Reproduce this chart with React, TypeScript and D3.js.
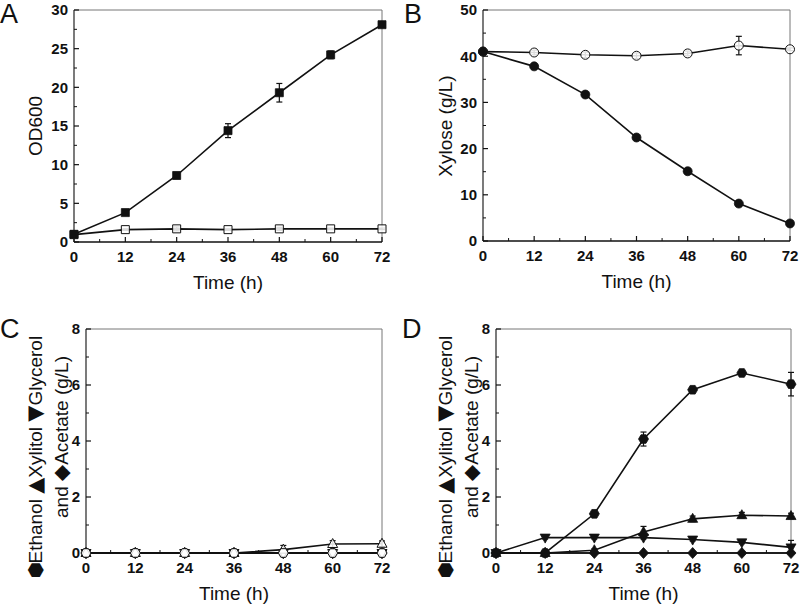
import React from "react";
import * as d3 from "d3";

const time = [0, 12, 24, 36, 48, 60, 72];
const xTicks = [0, 12, 24, 36, 48, 60, 72];

// Panel A: OD600
const odFilled = [1.0, 3.8, 8.6, 14.4, 19.3, 24.2, 28.1];
const odFilledErr = [0.1, 0.2, 0.2, 0.9, 1.2, 0.5, 0.2];
const odOpen = [0.95, 1.6, 1.7, 1.6, 1.7, 1.7, 1.7];
const odOpenErr = [0.05, 0.1, 0.25, 0.1, 0.2, 0.1, 0.1];
const odTicks = [0, 5, 10, 15, 20, 25, 30];

// Panel B: Xylose
const xyFilled = [41.0, 37.8, 31.7, 22.4, 15.1, 8.1, 3.8];
const xyFilledErr = [0.3, 0.3, 0.3, 0.4, 0.4, 0.6, 0.3];
const xyOpen = [41.0, 40.8, 40.3, 40.1, 40.6, 42.3, 41.5];
const xyOpenErr = [0.3, 0.5, 0.6, 0.6, 0.5, 2.0, 0.3];
const xyTicks = [0, 10, 20, 30, 40, 50];

// Panel C
const ethanolC = [0, 0, 0, 0, 0, 0, 0];
const ethanolCErr = [0, 0, 0, 0, 0, 0, 0];
const xylitolC = [0, 0, 0, 0, 0.12, 0.32, 0.33];
const xylitolCErr = [0, 0, 0, 0, 0.15, 0.12, 0.1];
const glycerolC = [0, 0, 0, 0, 0, 0, 0];
const glycerolCErr = [0, 0, 0, 0, 0.1, 0.1, 0.05];
const acetateC = [0, 0, 0, 0, 0, 0, 0];
const acetateCErr = [0, 0, 0, 0, 0, 0, 0];

// Panel D
const ethanolD = [0, 0, 1.4, 4.07, 5.83, 6.43, 6.03];
const ethanolDErr = [0, 0, 0.05, 0.25, 0.05, 0.05, 0.42];
const xylitolD = [0, 0, 0.1, 0.75, 1.22, 1.35, 1.32];
const xylitolDErr = [0, 0, 0.05, 0.2, 0.1, 0.1, 0.1];
const glycerolD = [0, 0.55, 0.55, 0.55, 0.48, 0.38, 0.2];
const glycerolDErr = [0, 0.05, 0.05, 0.05, 0.05, 0.05, 0.25];
const acetateD = [0, 0, 0, 0, 0, 0, 0];
const acetateDErr = [0, 0, 0, 0, 0, 0, 0];
const prodTicks = [0, 2, 4, 6, 8];

const FONT = "'Liberation Sans', Arial, sans-serif";
const SYM = "'DejaVu Sans', sans-serif";

type Shape = "square" | "circle" | "hexagon" | "triUp" | "triDown" | "diamond";

interface Series {
  values: number[];
  err: number[];
  shape: Shape;
  filled: boolean;
}

function markerPath(shape: Shape, cx: number, cy: number): string {
  const p = d3.path();
  if (shape === "square") {
    const s = 4;
    p.rect(cx - s, cy - s, 2 * s, 2 * s);
  } else if (shape === "circle") {
    p.moveTo(cx + 4.5, cy);
    p.arc(cx, cy, 4.5, 0, Math.PI * 2);
  } else if (shape === "hexagon") {
    const r = 5;
    for (let i = 0; i < 6; i++) {
      const a = (Math.PI / 3) * i;
      const x = cx + r * Math.cos(a);
      const y = cy + r * Math.sin(a);
      if (i === 0) p.moveTo(x, y);
      else p.lineTo(x, y);
    }
    p.closePath();
  } else if (shape === "triUp") {
    p.moveTo(cx, cy - 5.5);
    p.lineTo(cx + 5, cy + 3.5);
    p.lineTo(cx - 5, cy + 3.5);
    p.closePath();
  } else if (shape === "triDown") {
    p.moveTo(cx, cy + 5.5);
    p.lineTo(cx + 5, cy - 3.5);
    p.lineTo(cx - 5, cy - 3.5);
    p.closePath();
  } else {
    p.moveTo(cx, cy - 5.5);
    p.lineTo(cx + 5, cy);
    p.lineTo(cx, cy + 5.5);
    p.lineTo(cx - 5, cy);
    p.closePath();
  }
  return p.toString();
}

type Part = { t: string; sym?: number; dx?: number };

interface PanelProps {
  left: number;
  right: number;
  top: number;
  bottom: number;
  yMax: number;
  yTicks: number[];
  series: Series[];
  letter: string;
  letterX: number;
  letterY: number;
  yLabelLines: { parts: Part[]; x: number; y: number }[];
}

function Panel(props: PanelProps) {
  const { left, right, top, bottom, yMax, yTicks, series } = props;
  const x = d3.scaleLinear().domain([0, 72]).range([left, right]);
  const y = d3.scaleLinear().domain([0, yMax]).range([bottom, top]);
  const line = d3
    .line<number>()
    .x((_, i) => x(time[i]))
    .y((v) => y(v));
  const yStep = yTicks[1] - yTicks[0];
  const yMinor = d3.range(yStep / 2, yMax, yStep);
  const xMinor = d3.range(6, 72, 12);
  return (
    <g>
      {/* frame */}
      <line x1={left} x2={right} y1={top} y2={top} stroke="#777" strokeWidth={1} />
      <line x1={right} x2={right} y1={top} y2={bottom} stroke="#777" strokeWidth={1} />
      <line x1={left} x2={left} y1={top} y2={bottom} stroke="#222" strokeWidth={1.2} />
      <line x1={left} x2={right} y1={bottom} y2={bottom} stroke="#111" strokeWidth={1.5} />
      {/* x ticks */}
      {xTicks.map((t) => (
        <g key={"xt" + t}>
          <line x1={x(t)} x2={x(t)} y1={bottom} y2={bottom - 5} stroke="#111" strokeWidth={1.2} />
          <text
            x={x(t)}
            y={bottom + 20}
            textAnchor="middle"
            fontFamily={FONT}
            fontWeight="bold"
            fontSize={15}
            fill="#111"
          >
            {t}
          </text>
        </g>
      ))}
      {xMinor.map((t) => (
        <line key={"xm" + t} x1={x(t)} x2={x(t)} y1={bottom} y2={bottom - 3} stroke="#111" strokeWidth={1} />
      ))}
      {/* y ticks */}
      {yTicks.map((t) => (
        <g key={"yt" + t}>
          <line x1={left} x2={left + 5} y1={y(t)} y2={y(t)} stroke="#111" strokeWidth={1.2} />
          <text
            x={left - 6}
            y={y(t)}
            dy="0.36em"
            textAnchor="end"
            fontFamily={FONT}
            fontWeight="bold"
            fontSize={15}
            fill="#111"
          >
            {t}
          </text>
        </g>
      ))}
      {yMinor.map((t) => (
        <line key={"ym" + t} x1={left} x2={left + 3} y1={y(t)} y2={y(t)} stroke="#111" strokeWidth={1} />
      ))}
      {/* lines */}
      {series.map((s, si) => (
        <path key={"l" + si} d={line(s.values) || ""} fill="none" stroke="#111" strokeWidth={1.6} />
      ))}
      {/* error bars */}
      {series.map((s, si) =>
        s.values.map((v, i) =>
          s.err[i] > 0 ? (
            <g key={"e" + si + "-" + i} stroke="#111" strokeWidth={1.2}>
              <line x1={x(time[i])} x2={x(time[i])} y1={y(v - s.err[i])} y2={y(v + s.err[i])} />
              <line x1={x(time[i]) - 3} x2={x(time[i]) + 3} y1={y(v + s.err[i])} y2={y(v + s.err[i])} />
              <line x1={x(time[i]) - 3} x2={x(time[i]) + 3} y1={y(v - s.err[i])} y2={y(v - s.err[i])} />
            </g>
          ) : null
        )
      )}
      {/* markers */}
      {series.map((s, si) =>
        s.values.map((v, i) => (
          <path
            key={"m" + si + "-" + i}
            d={markerPath(s.shape, x(time[i]), y(v))}
            fill={s.filled ? "#111" : "#fff"}
            stroke="#111"
            strokeWidth={s.filled ? 0.8 : 1}
            fillOpacity={s.filled ? 1 : 0.85}
          />
        ))
      )}
      {/* x title */}
      <text
        x={(left + right) / 2}
        y={bottom + 47}
        textAnchor="middle"
        fontFamily={FONT}
        fontSize={19}
        fill="#111"
      >
        Time (h)
      </text>
      {/* y title */}
      {props.yLabelLines.map((l, i) => (
        <text
          key={"yl" + i}
          transform={`translate(${l.x},${l.y}) rotate(-90)`}
          textAnchor="middle"
          dy="0.35em"
          fontFamily={FONT}
          fontSize={19}
          fill="#111"
        >
          {l.parts.map((p, j) =>
            p.sym ? (
              <tspan key={j} fontFamily={SYM} fontSize={p.sym} dx={p.dx}>
                {p.t}
              </tspan>
            ) : (
              <tspan key={j} dx={p.dx}>
                {p.t}
              </tspan>
            )
          )}
        </text>
      ))}
      {/* panel letter */}
      <text x={props.letterX} y={props.letterY} fontFamily={FONT} fontSize={27} fill="#111">
        {props.letter}
      </text>
    </g>
  );
}

export default function App() {
  const prodLabel = (x1: number, x2: number) => [
    {
      parts: [
        { t: "\u2B22", sym: 19 },
        { t: "Ethanol ", dx: -2 },
        { t: "\u25B2", sym: 21 },
        { t: "Xylitol " },
        { t: "\u25BC", sym: 21 },
        { t: "Glycerol" },
      ],
      x: x1,
      y: 457,
    },
    {
      parts: [{ t: "and " }, { t: "\u25C6", sym: 21 }, { t: "Acetate (g/L)" }],
      x: x2,
      y: 437,
    },
  ];
  return (
    <svg width={800} height={606} style={{ position: "absolute", left: 0, top: 0, background: "#fff" }}>
      <Panel
        left={74}
        right={382}
        top={10}
        bottom={242}
        yMax={30}
        yTicks={odTicks}
        series={[
          { values: odOpen, err: odOpenErr, shape: "square", filled: false },
          { values: odFilled, err: odFilledErr, shape: "square", filled: true },
        ]}
        letter="A"
        letterX={0}
        letterY={23}
        yLabelLines={[{ parts: [{ t: "OD600" }], x: 35, y: 126 }]}
      />
      <Panel
        left={483}
        right={790}
        top={10}
        bottom={241}
        yMax={50}
        yTicks={xyTicks}
        series={[
          { values: xyOpen, err: xyOpenErr, shape: "circle", filled: false },
          { values: xyFilled, err: xyFilledErr, shape: "circle", filled: true },
        ]}
        letter="B"
        letterX={404}
        letterY={23}
        yLabelLines={[{ parts: [{ t: "Xylose (g/L)" }], x: 445, y: 126 }]}
      />
      <Panel
        left={86}
        right={382}
        top={329}
        bottom={553}
        yMax={8}
        yTicks={prodTicks}
        series={[
          { values: acetateC, err: acetateCErr, shape: "diamond", filled: false },
          { values: glycerolC, err: glycerolCErr, shape: "triDown", filled: false },
          { values: xylitolC, err: xylitolCErr, shape: "triUp", filled: false },
          { values: ethanolC, err: ethanolCErr, shape: "hexagon", filled: false },
        ]}
        letter="C"
        letterX={0}
        letterY={338}
        yLabelLines={prodLabel(35, 61)}
      />
      <Panel
        left={496}
        right={791}
        top={329}
        bottom={553}
        yMax={8}
        yTicks={prodTicks}
        series={[
          { values: acetateD, err: acetateDErr, shape: "diamond", filled: true },
          { values: glycerolD, err: glycerolDErr, shape: "triDown", filled: true },
          { values: xylitolD, err: xylitolDErr, shape: "triUp", filled: true },
          { values: ethanolD, err: ethanolDErr, shape: "hexagon", filled: true },
        ]}
        letter="D"
        letterX={402}
        letterY={338}
        yLabelLines={prodLabel(445, 471)}
      />
    </svg>
  );
}
